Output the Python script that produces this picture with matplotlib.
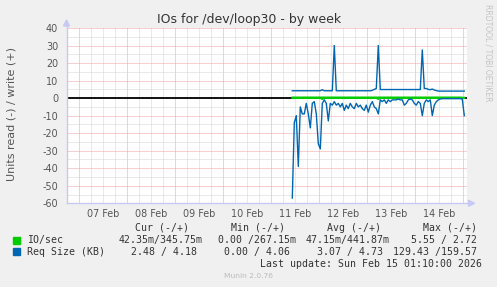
import numpy as np
import matplotlib
matplotlib.use('Agg')
import matplotlib.pyplot as plt
from matplotlib.patches import Rectangle
from matplotlib.lines import Line2D

plt.rcParams['axes.unicode_minus'] = False

# ---------------- data ----------------
title = "IOs for /dev/loop30 - by week"
ylabel = "Units read (-) / write (+)"
day_labels = ["07 Feb", "08 Feb", "09 Feb", "10 Feb", "11 Feb", "12 Feb", "13 Feb", "14 Feb"]
y_ticks = [-60, -50, -40, -30, -20, -10, 0, 10, 20, 30, 40]

# samples are hourly; x in days since 07 Feb 00:00
start_day = 4.4375
step_day = 1 / 24

reqsize_read = [
    -57, -14, -10, -39, -5, -9, -9, -3, -9, -17,
    -3, -2, -9, -26, -29, -3, -1, -3, -13, -3,
    -4, -2, -4, -3, -5, -3, -7, -4, -6, -3,
    -5, -6, -3, -5, -4, -6, -7, -4, -8, -4,
    -2, -5, -6, -9, -1, -2, -1, -3, -1, -2,
    -1, -1, -1, -0.5, -1, -1, -4, -3, -1, -0.5,
    -1, -3, -4, -2, -3, -10, -3, -1, -2, -1,
    -10, -4, -2, -1, -0.5, -0.3, -0.3, -0.3, -0.3, -0.3,
    -0.3, -0.3, -0.3, -0.3, -0.3, -0.5, -10,
]
reqsize_write = [
    4.2, 4.2, 4.2, 4.2, 4.2, 4.2, 4.2, 4.2, 4.2, 4.2,
    4.2, 4.2, 4.2, 4.2, 4.2, 4.8, 4.2, 4.2, 4.2, 4.2,
    4.2, 30.0, 4.2, 4.2, 4.2, 4.2, 4.2, 4.2, 4.2, 4.2,
    4.2, 4.2, 4.2, 4.2, 4.2, 4.2, 4.2, 4.2, 4.2, 4.2,
    4.4, 5.0, 5.5, 30.0, 4.9, 4.9, 4.9, 4.9, 4.9, 4.9,
    4.9, 4.9, 4.9, 4.9, 4.9, 4.9, 4.9, 4.9, 4.9, 4.9,
    4.9, 4.9, 4.9, 4.9, 4.9, 27.5, 5.5, 5.5, 5.0, 4.8,
    5.2, 4.6, 4.3, 4.0, 4.0, 4.0, 4.0, 4.0, 4.0, 4.0,
    4.0, 4.0, 4.0, 4.0, 4.0, 4.0, 4.0,
]
io_read = [
    -0.05, -0.04, -0.05, -0.06, -0.04, -0.05, -0.04, -0.05, -0.04, -0.05,
    -0.04, -0.05, -0.04, -0.05, -0.04, -0.6, -0.05, -0.04, -0.05, -0.04,
    -0.05, -0.04, -0.05, -0.04, -0.05, -0.04, -0.05, -0.04, -0.05, -0.04,
    -0.05, -0.04, -0.05, -0.04, -0.05, -0.04, -0.05, -0.04, -0.05, -0.04,
    -0.05, -0.04, -0.05, -0.6, -0.05, -0.04, -0.05, -0.04, -0.05, -0.04,
    -0.05, -0.04, -0.05, -0.04, -0.05, -0.04, -0.05, -0.04, -0.05, -0.04,
    -0.05, -0.04, -0.05, -0.04, -0.05, -0.04, -0.05, -0.04, -0.05, -0.04,
    -0.05, -0.04, -0.05, -0.04, -0.05, -0.04, -0.05, -0.04, -0.05, -0.04,
    -0.05, -0.04, -0.05, -0.04, -0.05, -0.04, -0.04,
]
io_write = [
    0.45, 0.45, 0.45, 0.45, 0.45, 0.45, 0.45, 0.45, 0.45, 0.45,
    0.45, 0.45, 0.45, 0.45, 0.45, 0.45, 0.45, 0.45, 0.45, 0.45,
    0.45, 0.45, 0.45, 0.45, 0.45, 0.45, 0.45, 0.45, 0.45, 0.45,
    0.45, 0.45, 0.45, 0.45, 0.45, 0.45, 0.45, 0.45, 0.45, 0.45,
    0.45, 0.45, 0.45, 0.45, 0.45, 0.45, 0.45, 0.45, 0.45, 0.45,
    0.45, 0.45, 0.45, 0.45, 0.45, 0.45, 0.45, 0.45, 0.45, 0.45,
    0.45, 0.45, 0.45, 0.45, 0.45, 0.45, 0.45, 0.45, 0.45, 0.45,
    0.45, 0.45, 0.45, 0.45, 0.45, 0.45, 0.45, 0.45, 0.45, 0.45,
    0.45, 0.45, 0.45, 0.45, 0.45, 0.35, 0.35,
]

legend_names = ["IO/sec", "Req Size (KB)"]
legend_colors = ["#00CC00", "#0066B3"]
col_headers = ["Cur (-/+)", "Min (-/+)", "Avg (-/+)", "Max (-/+)"]
io_stats = ["42.35m/345.75m", "0.00 /267.15m", "47.15m/441.87m", "5.55 / 2.72"]
req_stats = ["2.48 / 4.18", "0.00 / 4.06", "3.07 / 4.73", "129.43 /159.57"]
last_update = "Last update: Sun Feb 15 01:10:00 2026"
footer = "Munin 2.0.76"
watermark = "RRDTOOL / TOBI OETIKER"

# ---------------- figure ----------------
W, H = 497, 287
fig = plt.figure(figsize=(W / 100, H / 100), dpi=100, facecolor='#F0F0F0')

def fx(x):
    return x / W

def fy(y):
    return 1 - y / H

x_left, x_right, y_top, y_bot = 66.5, 466.5, 28.0, 203.3
ax = fig.add_axes([fx(x_left), fy(y_bot), (x_right - x_left) / W, (y_bot - y_top) / H])
ax.set_facecolor('white')
xmin, xmax = -0.267, 8.067
ax.set_xlim(xmin, xmax)
ax.set_ylim(-60, 40)

# grid
dot = (0, (1, 1))
for h in np.arange(-0.25, 8.1, 0.25):
    if h < xmin or h > xmax:
        continue
    major = abs(h - round(h)) < 1e-6
    ax.axvline(h, color='#F2A0A0' if major else '#D4D4D4', lw=0.72, ls=dot, zorder=1)
for v in range(-60, 41, 5):
    major = v % 10 == 0
    ax.axhline(v, color='#F2A0A0' if major else '#D4D4D4', lw=0.72, ls=dot, zorder=1)

# zero line
ax.axhline(0, color='black', lw=1.3, zorder=2)

t = start_day + step_day * np.arange(len(reqsize_read))
ax.plot(t, io_write, color=legend_colors[0], lw=1.2, zorder=3)
ax.plot(t, io_read, color=legend_colors[0], lw=1.2, zorder=3)
ax.plot(t, reqsize_write, color=legend_colors[1], lw=1.0, zorder=4)
ax.plot(t, reqsize_read, color=legend_colors[1], lw=1.0, zorder=4)

for s in ax.spines.values():
    s.set_visible(False)

ax.set_xticks(np.arange(len(day_labels)) + 0.5)
ax.set_xticklabels(day_labels)
ax.set_yticks(y_ticks)
ax.set_yticklabels([str(v) for v in y_ticks])
ax.tick_params(axis='both', length=0, labelsize=6.9, colors='#555555', pad=4)
ax.tick_params(axis='y', pad=6)

# axes lines with arrows
axis_col = '#C8C8F4'
fig.add_artist(Line2D([fx(x_left), fx(x_left)], [fy(y_bot), fy(y_top - 4)], color=axis_col, lw=1))
fig.add_artist(Line2D([fx(x_left), fx(x_right + 4)], [fy(y_bot), fy(y_bot)], color=axis_col, lw=1))
fig.patches.append(plt.Polygon([[fx(x_left - 3), fy(y_top - 2)], [fx(x_left + 3), fy(y_top - 2)], [fx(x_left), fy(y_top - 8)]],
                               closed=True, color=axis_col, transform=fig.transFigure, figure=fig))
fig.patches.append(plt.Polygon([[fx(x_right + 2), fy(y_bot - 3)], [fx(x_right + 2), fy(y_bot + 3)], [fx(x_right + 8), fy(y_bot)]],
                               closed=True, color=axis_col, transform=fig.transFigure, figure=fig))

# title and labels
fig.text(fx(249), fy(19), title, ha='center', va='center', fontsize=9, color='#333333')
fig.text(fx(12), fy(114), ylabel, ha='center', va='center', rotation=90, fontsize=8, color='#555555')
fig.text(fx(488), fy(53), watermark, ha='center', va='center', rotation=270, fontsize=5.5, color='#C4C4C4')
fig.text(fx(248), fy(276.5), footer, ha='center', va='center', fontsize=5.4, color='#BBBBBB')

# legend
mono = dict(family='DejaVu Sans Mono', fontsize=7.15, color='#333333', va='center')
header_x = [135, 230.7, 326.7, 422.7]
for hx, txt in zip(header_x, col_headers):
    fig.text(fx(hx), fy(227.7), txt, ha='left', **mono)

rows_y = [240, 251.7]
for ry, name, col in zip(rows_y, legend_names, legend_colors):
    fig.patches.append(Rectangle((fx(13), fy(ry + 3.5)), 7 / W, 7 / H, color=col, transform=fig.transFigure, figure=fig))
    fig.text(fx(26.7), fy(ry), name, ha='left', **mono)

col_end_io = [202.7, 296, 389.3, 476.7]
col_end_req = [196.7, 290, 383.3, 476.7]
for ry, stats, ends in zip(rows_y, [io_stats, req_stats], [col_end_io, col_end_req]):
    for ce, s in zip(ends, stats):
        fig.text(fx(ce), fy(ry), s, ha='right', **mono)

fig.text(fx(482.3), fy(263.7), last_update, ha='right', **mono)

fig.savefig('out.png', dpi=100, facecolor=fig.get_facecolor())
